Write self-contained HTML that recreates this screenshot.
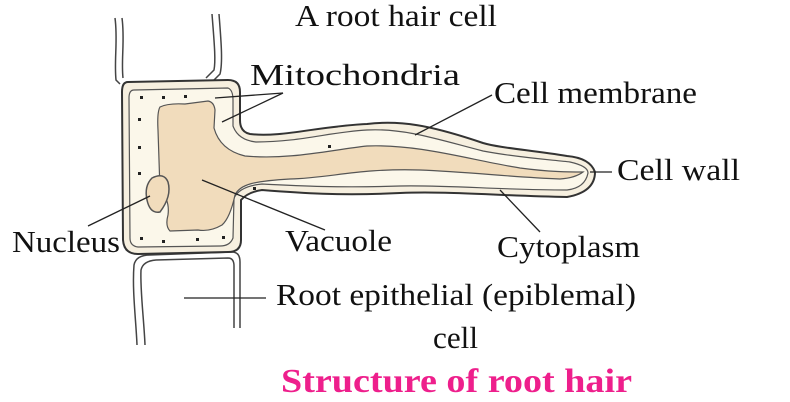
<!DOCTYPE html>
<html><head><style>
body{margin:0;background:#fff;}
svg{display:block}
text{font-family:"Liberation Serif",serif;font-size:31px;fill:#111;}
</style></head><body>
<svg width="790" height="402" viewBox="0 0 790 402">
<path d="M115,18 C118,40 114,60 116,80 L120,84" fill="none" stroke="#444" stroke-width="1.5"/>
<path d="M122,18 C125,40 121,60 123,78" fill="none" stroke="#444" stroke-width="1.5"/>
<path d="M212,14 C214,40 216,60 214,70 L206,78" fill="none" stroke="#444" stroke-width="1.5"/>
<path d="M219,14 C221,40 223,62 220,74 L214,80" fill="none" stroke="#444" stroke-width="1.5"/>
<path d="M137,345 C136,320 132,290 134,265 Q136,255 150,255 L232,252 Q240,252 240,262 L240,328" fill="none" stroke="#444" stroke-width="1.5"/>
<path d="M145,345 C144,320 140,290 141,270 Q143,261 156,260 L228,258 Q234,258 234,266 L234,328" fill="none" stroke="#444" stroke-width="1.5"/>
<path d="M128,82 Q122,82 122,92 L123,240 Q124,254 138,254 L228,252 Q241,252 241,240 L241,200 Q248,192 262,190 C300,193 340,196 400,193 C450,191 500,196 567,197 Q595,192 595,172 Q590,158 567,156 C530,150 500,148 483,143 C430,125 400,120 367,124 C320,126 280,138 250,134 Q240,132 240,120 L240,92 Q240,80 228,80 Z" fill="#f6efdf" stroke="#333" stroke-width="2"/>
<path d="M134,90 L228,88 Q233,90 233,100 L233,126 Q238,140 256,142 C300,142 330,132 367,130 C405,128 440,140 483,151 C520,158 555,160 570,162 Q588,166 588,173 Q585,188 567,190 C500,190 450,185 400,186 C340,188 300,186 262,184 Q240,186 234,198 L233,238 Q230,246 220,246 L138,247 Q130,246 130,238 L129,98 Q129,90 134,90 Z" fill="#fbf7ea" stroke="#555" stroke-width="1.2"/>
<path d="M160,107 Q168,103 185,104 L208,101 Q214,102 215,110 L214,128 Q220,150 245,156 C290,160 330,150 367,146 C420,144 470,160 520,168 C550,172 570,172 583,172 Q575,178 560,179 C510,177 470,172 420,170 C360,168 330,178 290,179 C255,181 240,184 235,195 Q230,218 222,225 Q210,232 198,230 L170,231 Q165,226 168,215 Q170,200 160,190 L158,130 Q157,112 160,107 Z" fill="#f1dcbc" stroke="#555" stroke-width="1.2"/>
<path d="M152,178 Q164,172 168,182 Q172,196 160,212 Q150,214 147,200 Q144,186 152,178 Z" fill="#f1dcbc" stroke="#555" stroke-width="1.5"/>
<g fill="#222">
<rect x="140" y="96" width="3" height="3"/><rect x="162" y="96" width="3" height="3"/><rect x="184" y="95" width="3" height="3"/><rect x="138" y="118" width="3" height="3"/><rect x="138" y="146" width="3" height="3"/><rect x="138" y="172" width="3" height="3"/><rect x="140" y="237" width="3" height="3"/><rect x="162" y="240" width="3" height="3"/><rect x="196" y="238" width="3" height="3"/><rect x="222" y="236" width="3" height="3"/><rect x="328" y="145" width="3" height="3"/><rect x="253" y="187" width="3" height="3"/>
</g>
<g stroke="#222" stroke-width="1.3" fill="none">
<line x1="215" y1="98" x2="283" y2="93"/><line x1="222" y1="122" x2="283" y2="93"/>
<line x1="415" y1="135" x2="492" y2="95"/>
<line x1="590" y1="172" x2="612" y2="172"/>
<line x1="202" y1="180" x2="325" y2="230"/>
<line x1="500" y1="190" x2="540" y2="232"/>
<line x1="150" y1="196" x2="88" y2="226"/>
<line x1="184" y1="298" x2="266" y2="298"/>
</g>
<text x="295" y="26" textLength="202" lengthAdjust="spacingAndGlyphs">A root hair cell</text>
<text x="250" y="85" textLength="210" lengthAdjust="spacingAndGlyphs">Mitochondria</text>
<text x="494" y="103" textLength="203" lengthAdjust="spacingAndGlyphs">Cell membrane</text>
<text x="617" y="180" textLength="123" lengthAdjust="spacingAndGlyphs">Cell wall</text>
<text x="12" y="252" textLength="108" lengthAdjust="spacingAndGlyphs">Nucleus</text>
<text x="285" y="251" textLength="107" lengthAdjust="spacingAndGlyphs">Vacuole</text>
<text x="497" y="257" textLength="143" lengthAdjust="spacingAndGlyphs">Cytoplasm</text>
<text x="276" y="305" textLength="360" lengthAdjust="spacingAndGlyphs">Root epithelial (epiblemal)</text>
<text x="433" y="348" textLength="45" lengthAdjust="spacingAndGlyphs">cell</text>
<text x="281" y="392" textLength="351" lengthAdjust="spacingAndGlyphs" style="font-size:34px;font-weight:bold;fill:#ee1f8c">Structure of root hair</text>
</svg>
</body></html>
